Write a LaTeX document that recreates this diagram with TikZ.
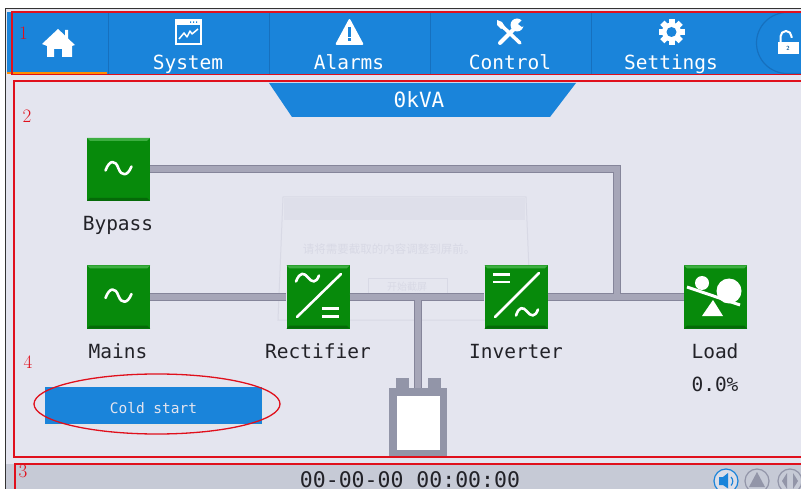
\documentclass[tikz,border=0pt]{standalone}
\usepackage{fontspec}
\setmonofont{DejaVu Sans Mono}
\newfontfamily\cjkf{Noto Sans CJK SC}
\usetikzlibrary{calc}
\definecolor{bgc}{HTML}{E4E5EF}
\definecolor{barblue}{HTML}{1A84DA}
\definecolor{sepblue}{HTML}{1670BE}
\definecolor{busc}{HTML}{A6A6B8}
\definecolor{busd}{HTML}{85859A}
\definecolor{statusc}{HTML}{C6CAD6}
\definecolor{gmain}{HTML}{078A0B}
\definecolor{glight}{HTML}{3DAE41}
\definecolor{gdark}{HTML}{056A08}
\definecolor{redl}{HTML}{E0101C}
\definecolor{txt}{HTML}{222228}
\definecolor{batc}{HTML}{9295A8}
\definecolor{ghost}{HTML}{DEDFEA}
\definecolor{ghostb}{HTML}{D8D9E5}
\tikzset{
  x=1pt,y=-1pt,
  gbox/.style={minimum width=63pt,minimum height=63pt,inner sep=0pt,fill=gmain,
    path picture={
      \fill[glight] (path picture bounding box.north west) -- (path picture bounding box.north east)
        -- ++(-3pt,-3pt) -- ($(path picture bounding box.north west)+(3pt,-3pt)$) -- cycle;
      \fill[gdark] (path picture bounding box.south west) -- (path picture bounding box.south east)
        -- ++(-3pt,3pt) -- ($(path picture bounding box.south west)+(3pt,3pt)$) -- cycle;
    }},
  lbl/.style={font=\ttfamily\fontsize{19.5}{22}\selectfont,text=txt,inner sep=0pt,anchor=base},
  tab/.style={font=\ttfamily\fontsize{19.5}{22}\selectfont,text=white,inner sep=0pt,anchor=base},
  num/.style={font=\rmfamily\fontsize{19}{22}\selectfont,text=redl,inner sep=0pt},
  busedge/.style={draw=busd,line width=8pt},
  busfill/.style={draw=busc,line width=6pt},
  redbox/.style={draw=redl,line width=1.4pt},
  ic/.style={draw=white,line width=2.6pt,line cap=round,line join=round},
}
\newcommand{\sinewave}[2]{% x y
  \draw[ic,shift={(#1,#2)}] (-13,2) .. controls (-9,-9) and (-3,-9) .. (0,0) .. controls (3,8) and (9,8) .. (13,-2);
}
\begin{document}
\begin{tikzpicture}
\useasboundingbox (0,0) rectangle (801,489);
\fill[white] (0,0) rectangle (801,489);
\fill[bgc] (6,9) rectangle (801,489);
\draw[black!80,line width=1pt] (5.5,489) -- (5.5,9) -- (801,9);
% status bar
\fill[statusc] (6,464) rectangle (801,489);
% top bar
\fill[barblue] (7,12) rectangle (801,74);
\fill[orange!90!yellow] (7,72) rectangle (107,74.5);
\foreach \xx in {108,269,430,591} \draw[sepblue,line width=.8pt] (\xx,12) -- (\xx,74);
\draw[sepblue,line width=1.2pt,fill=barblue] (801,12.5) -- (787,12.5) arc[start angle=-90,end angle=-270,radius=30.5] -- (801,73.5);
% ghost dialog
\draw[ghostb,line width=1pt,fill=bgc!97!white] (283,197) -- (526,197) -- (531,320) -- (278,320) -- cycle;
\fill[ghost] (284,198) rectangle (525,220);
\node[font=\cjkf\fontsize{11.5}{13}\selectfont,text=ghostb,inner sep=0pt] (ghosttext) at (389,249) {请将需要截取的内容调整到屏前。};
\draw[ghostb,line width=.6pt] (368,278) rectangle (447,296);
\node[font=\cjkf\fontsize{10}{12}\selectfont,text=ghostb,inner sep=0pt] (ghostbtn) at (407,287) {开始截屏};
% banner
\fill[barblue] (269,83) -- (576,83) -- (550,117) -- (292,117) -- cycle;
\node[font=\ttfamily\fontsize{21}{24}\selectfont,text=white,inner sep=0pt,anchor=base] (kva) at (419,108) {0kVA};
% nodes
\node[gbox] (bypass) at (118.5,169.5) {};
\node[gbox] (mains) at (118.5,297) {};
\node[gbox] (rect) at (318,297) {};
\node[gbox] (inv) at (516,297) {};
\node[gbox] (load) at (715.5,297) {};
\coordinate (busj) at (617,297);
\coordinate (batj) at (418,297);
% battery
\fill[batc] (396,378) rectangle (409,388);
\fill[batc] (428,378) rectangle (441,388);
\node[minimum width=58pt,minimum height=69pt,inner sep=0pt,fill=batc] (battery) at (418,422.5) {};
\fill[white] (397,396) rectangle (440,450);
% connectors
\foreach \st in {busedge,busfill}{
  \draw[\st] (bypass.east |- 0,169) -| (busj);
  \draw[\st] (mains.east) -- (rect.west);
  \draw[\st] (rect.east) -- (inv.west);
  \draw[\st] (inv.east) -- (load.west);
  \draw[\st] (batj) -- (battery.north);
}
\sinewave{118.5}{168.5}
\sinewave{118.5}{296}
% rectifier icon
\begin{scope}[shift={(318,296.5)}]
 \draw[ic] (-21,20.5) -- (23,-22.5);
 \draw[ic] (-22,-15) .. controls (-18,-25) and (-14,-24) .. (-10,-19) .. controls (-6,-14) and (-2,-13) .. (1,-21);
 \draw[ic,line cap=butt] (4,12) -- (21,12) (4,20) -- (21,20);
\end{scope}
% inverter icon
\begin{scope}[shift={(516,296.5)}]
 \draw[ic] (-21,20.5) -- (23,-23.5);
 \draw[ic,line cap=butt] (-23,-22) -- (-6,-22) (-23,-14.5) -- (-6,-14.5);
 \draw[ic] (0,19) .. controls (3,10) and (7,10) .. (11,15) .. controls (15,20) and (19,21) .. (22,13);
\end{scope}
% load icon
\begin{scope}[shift={(715.5,296.5)}]
 \fill[white] (-13.5,-13.5) circle (7);
 \fill[white] (13.5,-5.5) circle (12.5);
 \draw[white,line width=3pt] (-28.5,-9.5) -- (24.5,8.5);
 \fill[white] (-2.5,3.5) -- (-13.5,19.5) -- (7.5,19.5) -- cycle;
\end{scope}
% labels
\node[lbl] (lb) at (118,231) {Bypass};
\node[lbl] (lm) at (118,358) {Mains};
\node[lbl] (lr) at (318,358) {Rectifier};
\node[lbl] (li) at (516,358) {Inverter};
\node[lbl] (ll) at (715,358.5) {Load};
\node[lbl] (lp) at (715,391.5) {0.0\%};
% tabs
\node[tab] (t1) at (188,70) {System};
\node[tab] (t2) at (349,70) {Alarms};
\node[tab] (t3) at (510,70) {Control};
\node[tab] (t4) at (671,70) {Settings};
% home icon
\fill[white] (42,44) -- (58,29) -- (65,35.5) -- (65,30) -- (68,30) -- (68,38.5) -- (75,45) -- (72,46) -- (72,57) -- (62,57) -- (62,49) -- (54,49) -- (54,57) -- (47,57) -- (47,46) -- cycle;
% system icon
\draw[white,line width=1.5pt] (176,20) rectangle (201,44);
\fill[white] (176,20) rectangle (201,25);
\fill[barblue] (190,21.5) rectangle (191,23) (193,21.5) rectangle (194,23) (196,21.5) rectangle (197,23);
\draw[white,line width=1.5pt,line join=round] (179,39) -- (184,33) -- (187,37) -- (190,31) -- (192,34) -- (198,29);
% alarm icon
\fill[white,rounded corners=2pt] (349.5,18) -- (364,45) -- (335,45) -- cycle;
\fill[barblue] (348,27) rectangle (351,37);
\fill[barblue] (348,38.5) rectangle (351,41.5);
% control icon
\draw[white,line width=3.5pt,line cap=round] (501,25) -- (520,43);
\fill[white] (497,20) -- (502,22) -- (505,27) -- (501,29) -- (497,25) -- cycle;
\draw[white,line width=4pt,line cap=round] (500,43) -- (516,27);
\fill[white] (517,25) circle (6.5);
\fill[barblue] (518,24) -- (524,18) -- (527,23) -- (522,27) -- cycle;
% gear
\begin{scope}[shift={(671.5,32)}]
 \foreach \a in {0,45,...,315} \fill[white,rotate=\a] (-3,-13) rectangle (3,-7);
 \fill[white] (0,0) circle (9.5);
 \fill[barblue] (0,0) circle (5);
\end{scope}
% lock
\fill[white] (778,42) rectangle (799,54);
\draw[white,line width=2pt] (780.5,42) -- (780.5,36.5) arc[start angle=180,end angle=360,radius=5.5] -- (791.5,38);
\node[font=\sffamily\bfseries\fontsize{6}{7}\selectfont,text=barblue!70!black,inner sep=0pt] (lk) at (788,48) {2};
% button
\fill[black!10] (46,388) rectangle (263,426);
\node[minimum width=217pt,minimum height=37pt,inner sep=0pt,fill=barblue] (cold) at (153.5,405.5) {};
\node[text=bgc,font=\ttfamily\fontsize{14.5}{16}\selectfont,inner sep=0pt,anchor=base] (coldtext) at (153.5,413) {Cold start};
\draw[redl,line width=1.3pt] (157,404) ellipse[x radius=123,y radius=30];
% date
\node[font=\ttfamily\fontsize{21.5}{24}\selectfont,text=txt,inner sep=0pt,anchor=base] (date) at (410,487) {00-00-00 00:00:00};
% status icons
\draw[barblue,line width=1.2pt,fill=bgc!70!statusc] (726,481) circle (12);
\fill[barblue] (719,477) -- (723,477) -- (728,473) -- (728,488.5) -- (723,485) -- (719,485) -- cycle;
\draw[barblue,line width=1.2pt] (731,477) arc[start angle=-45,end angle=45,radius=6];
\draw[batc,line width=1.2pt,fill=statusc] (757,481) circle (12);
\fill[batc] (757,472) -- (765,487) -- (749,487) -- cycle;
\draw[batc,line width=1.2pt,fill=statusc] (790,481) circle (12);
\fill[batc] (787,473) -- (787,489) -- (782,481) -- cycle;
\fill[batc] (793,473) -- (793,489) -- (798,481) -- cycle;
% red annotation boxes
\draw[redbox] (12,12) rectangle (803,74.5);
\draw[redbox] (14,81) rectangle (803,457);
\draw[redbox] (15,491) -- (15,464) -- (803,464);
\node[num] (n1) at (23.5,33) {1};
\node[num] (n2) at (27,116) {2};
\node[num] (n4) at (28,362) {4};
\node[num] (n3) at (23,471) {3};
\end{tikzpicture}
\end{document}
